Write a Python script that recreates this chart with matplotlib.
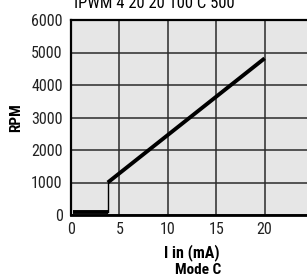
import matplotlib
matplotlib.use("Agg")
from matplotlib import pyplot as plt

# data
off_x = [0.2, 3.8]
off_y = [80, 80]
step_x = [3.8, 3.8]
step_y = [80, 1000]
on_x = [3.8, 20]
on_y = [1000, 4820]
xticks = [0, 5, 10, 15, 20]
xgrid = [0, 5, 10, 15, 20, 25]
yticks = [0, 1000, 2000, 3000, 4000, 5000, 6000]

plt.rcParams['font.family'] = ['Roboto Condensed', 'Barlow Semi Condensed', 'DejaVu Sans']

fig = plt.figure(figsize=(3.07, 2.8), dpi=100)
ax = fig.add_axes([71/307, 1-215/280, (313-71)/307, (215-20)/280])
ax.set_facecolor("#e6e6e6")

ax.plot(off_x, off_y, color="black", lw=2.8, solid_capstyle="butt")
ax.plot(step_x, step_y, color="black", lw=1.0)
ax.plot(on_x, on_y, color="black", lw=2.8, solid_capstyle="butt")

ax.set_xlim(0, 25)
ax.set_ylim(0, 6000)
ax.set_xticks(xgrid)
ax.set_xticklabels([str(v) for v in xticks] + [""])
ax.set_yticks(yticks)
ax.grid(True, color="#2b2b2b", lw=1.1)
ax.set_axisbelow(True)
ax.tick_params(length=0, labelsize=11.5, colors="#222222")
ax.tick_params(axis="y", pad=6)
ax.tick_params(axis="x", pad=5)
for s in ["left", "top"]:
    ax.spines[s].set_linewidth(1.6)
ax.spines["bottom"].set_linewidth(2.0)
ax.spines["right"].set_visible(False)

ax.set_ylabel("RPM", fontsize=11, fontweight="bold", labelpad=6)
ax.set_xlabel("I in (mA)", fontsize=11.5, fontweight="bold", labelpad=5)
fig.text(154/307, 1-8/280, "IPWM 4 20 20 100 C 500", ha="center", va="baseline", fontsize=12)
fig.text(198/307, 1-277/280, "Mode C", ha="center", va="bottom", fontsize=11, fontweight="bold")

fig.savefig("out.png", dpi=100)
